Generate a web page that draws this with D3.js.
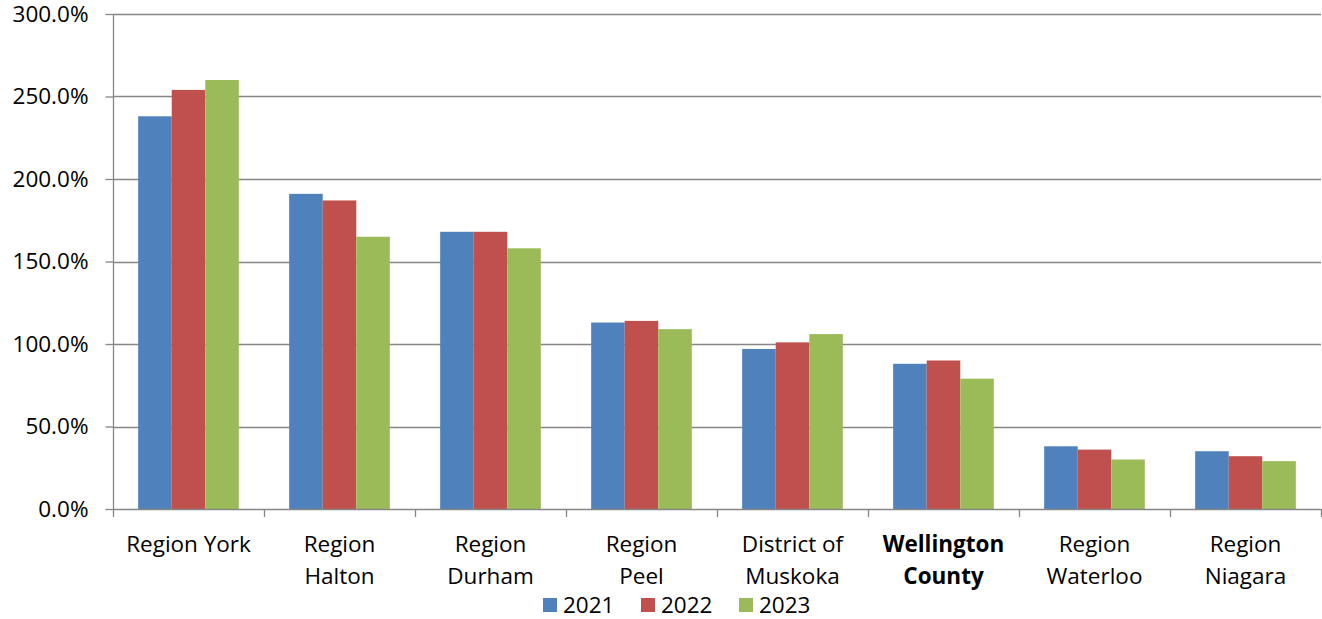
<!DOCTYPE html>
<html><head><meta charset="utf-8">
<script src="https://cdn.jsdelivr.net/npm/d3@7"></script>
<style>
html,body{margin:0;padding:0;background:#fff;}
svg{display:block;}
text{font-family:"Open Sans", "Noto Sans", sans-serif;fill:#000;}
</style></head>
<body><svg id="c" width="1322" height="619"></svg>
<script>
const categories = [["Region York"],["Region","Halton"],["Region","Durham"],["Region","Peel"],["District of","Muskoka"],["Wellington","County"],["Region","Waterloo"],["Region","Niagara"]];
const boldCategory = 5;
const seriesNames = ["2021","2022","2023"];
const values2021 = [238, 191, 168, 113, 97, 88, 38, 35];
const values2022 = [254, 187, 168, 114, 101, 90, 36, 32];
const values2023 = [260, 165, 158, 109, 106, 79, 30, 29];
const yTicks = [0, 50, 100, 150, 200, 250, 300];
const colors = ["#4F81BD", "#C0504D", "#9BBB59"];

(function(){
const series = [values2021, values2022, values2023];
const svg = d3.select("#c");
const mLeft = 113, mRight = 1321, mTop = 14, mBottom = 509;
const grey = "#868686";
const fs = "22.5px";

const x = d3.scaleBand().domain(d3.range(categories.length)).range([mLeft, mRight]);
const y = d3.scaleLinear().domain([0, 300]).range([mBottom, mTop]);

// gridlines
svg.append("g").selectAll("line").data(yTicks.filter(d=>d>0)).join("line")
  .attr("x1", mLeft).attr("x2", mRight).attr("y1", d=>Math.round(y(d))+0.5).attr("y2", d=>Math.round(y(d))+0.5)
  .attr("stroke", grey).attr("stroke-width", 1.3);

// bars
const bw = x.bandwidth() / (3 + 1.5);
series.forEach((vals, si) => {
  svg.append("g").selectAll("rect").data(vals).join("rect")
    .attr("x", (d,i) => x(i) + bw*0.75 + si*bw)
    .attr("width", bw)
    .attr("y", d => y(d))
    .attr("height", d => y(0) - y(d))
    .attr("fill", colors[si]);
});

// y axis
const yAxis = d3.axisLeft(y).tickValues(yTicks).tickFormat(d => d.toFixed(1) + "%").tickSize(8).tickPadding(17);
const ga = svg.append("g").attr("transform", `translate(${mLeft+0.5},0)`).call(yAxis);
ga.select(".domain").attr("stroke", grey).attr("stroke-width", 1.3).attr("d", `M0,${y(300)}V${y(0)}`);
ga.selectAll(".tick line").attr("stroke", grey).attr("stroke-width", 1.3);
ga.selectAll(".tick text").style("font-size", fs).attr("fill", "#000").style("font-family", "'Open Sans', 'Noto Sans', sans-serif");

// x axis
svg.append("line").attr("x1", mLeft).attr("x2", mRight).attr("y1", mBottom+0.5).attr("y2", mBottom+0.5).attr("stroke", grey).attr("stroke-width", 1.3);
const tickXs = d3.range(categories.length + 1).map(i => i < categories.length ? x(i) : mRight);
svg.append("g").selectAll("line").data(tickXs).join("line")
  .attr("x1", d=>Math.round(d)+0.5).attr("x2", d=>Math.round(d)+0.5).attr("y1", mBottom).attr("y2", mBottom+8)
  .attr("stroke", grey).attr("stroke-width", 1.3);

// category labels
const lab = svg.append("g").selectAll("text").data(categories).join("text")
  .attr("text-anchor", "middle")
  .style("font-size", fs)
  .style("font-weight", (d,i) => i === boldCategory ? "bold" : "normal")
  .attr("transform", (d,i) => `translate(${x(i)+x.bandwidth()/2},552)`);
lab.selectAll("tspan").data(d => d).join("tspan")
  .attr("x", 0).attr("dy", (d,i) => i === 0 ? 0 : 32).text(d => d);

// legend
const legX = [543, 641, 739];
const leg = svg.append("g").selectAll("g").data(seriesNames).join("g")
  .attr("transform", (d,i) => `translate(${legX[i]},598)`);
leg.append("rect").attr("width", 14).attr("height", 14).attr("fill", (d,i) => colors[i]);
leg.append("text").attr("x", 20).attr("y", 15).style("font-size", fs).text(d => d);
})();
</script>
</body></html>
